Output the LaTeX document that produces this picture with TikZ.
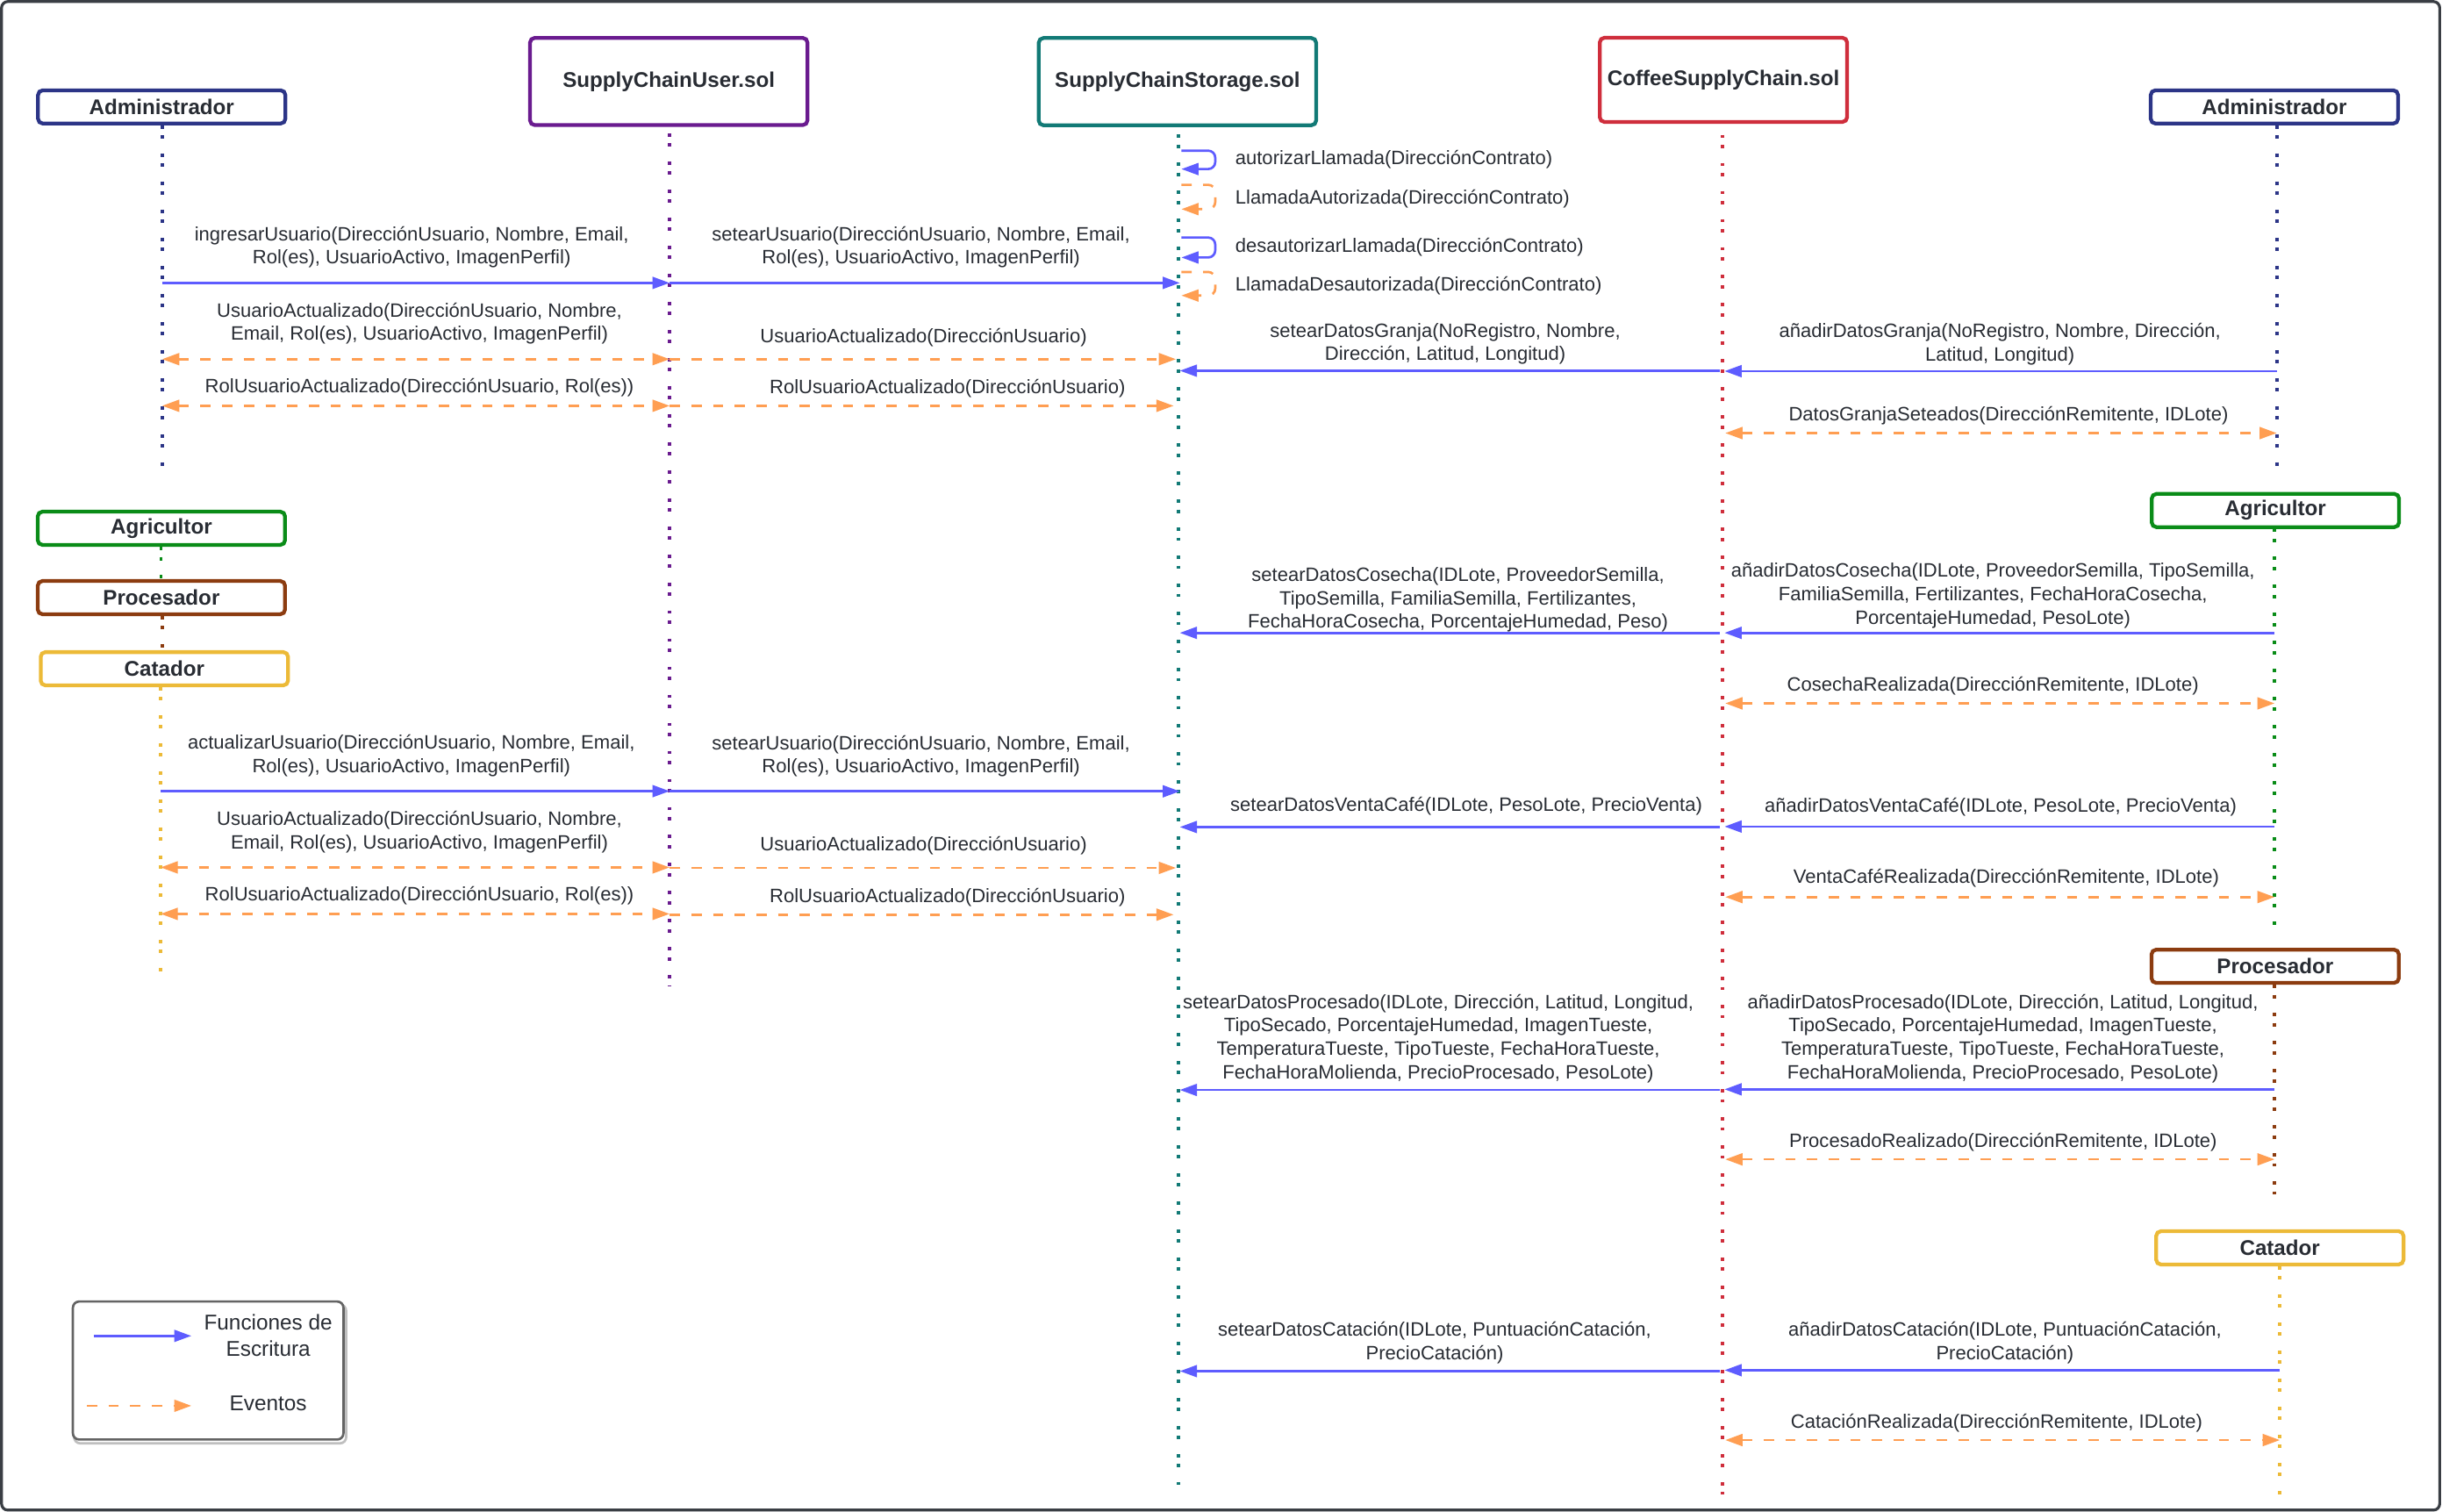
\documentclass[tikz,border=0pt]{standalone}
\usepackage{fontspec}
\setmainfont{Liberation Sans}
\usetikzlibrary{arrows.meta}
\definecolor{txt}{HTML}{282C33}
\definecolor{admc}{HTML}{2C3587}
\definecolor{userc}{HTML}{6A1B8F}
\definecolor{stoc}{HTML}{127A76}
\definecolor{cofc}{HTML}{CF2E3C}
\definecolor{agrc}{HTML}{0A8C18}
\definecolor{proc}{HTML}{8C3C10}
\definecolor{catc}{HTML}{ECBA38}
\definecolor{callc}{HTML}{5E5CFF}
\definecolor{evtc}{HTML}{FF9E52}
\definecolor{legc}{HTML}{646464}
\definecolor{framec}{HTML}{3A3E44}
\begin{document}
\begin{tikzpicture}[x=1pt,y=-1pt,
  actor/.style={draw, fill=white, rounded corners=3pt, line width=2.4pt, text=txt,
    font=\bfseries\fontsize{13.6}{16}\selectfont, inner sep=0pt,
    minimum width=158.6pt, minimum height=21.3pt},
  contract/.style={actor, minimum width=177.9pt, minimum height=55.9pt},
  life/.style={line width=2.1pt, dash pattern=on 2.2pt off 4.2pt on 2.2pt off 9.4pt},
  tip/.tip={Triangle[length=11pt,width=7.6pt]},
  call/.style={draw=callc, line width=1.5pt, -tip},
  evt/.style={draw=evtc, line width=1.5pt, dash pattern=on 6.6pt off 7.3pt, -tip},
  evtb/.style={evt, tip-tip},
  lbl/.style={text=txt, font=\fontsize{12.4}{15}\selectfont, align=center, inner sep=0pt},
  lbll/.style={lbl, anchor=west},
  leglbl/.style={text=txt, font=\fontsize{13.7}{17}\selectfont, align=center, inner sep=0pt}
]
\useasboundingbox (0,0) rectangle (1566,969.5);
\fill[white] (0,0) rectangle (1566,969.5);
\draw[framec, line width=1.8pt, rounded corners=4pt] (1,1) rectangle (1564.5,968.3);

% lifeline coordinates
\coordinate (admLt) at (104,80.4);   \coordinate (admLb) at (104,299.5);
\coordinate (userT) at (429.4,85.4); \coordinate (userB) at (429.4,632);
\coordinate (stoT) at (755.6,86.3);  \coordinate (stoB) at (755.6,952);
\coordinate (cofT) at (1104.4,86.4); \coordinate (cofB) at (1104.4,958);
\coordinate (admRt) at (1460,80.4);  \coordinate (admRb) at (1460,299.5);
\coordinate (agrLt) at (103.3,350.7); \coordinate (agrLb) at (103.3,371.4);
\coordinate (proLt) at (104,395);    \coordinate (proLb) at (104,417);
\coordinate (catLt) at (103,440.6);  \coordinate (catLb) at (103,625.5);
\coordinate (agrRt) at (1458.6,339); \coordinate (agrRb) at (1458.6,592.8);
\coordinate (proRt) at (1458.6,631.5); \coordinate (proRb) at (1458.6,771.5);
\coordinate (catRt) at (1462,812);   \coordinate (catRb) at (1462,958);

% lifelines
\draw[life, admc] (admLt) -- (admLb);
\draw[life, userc] (userT) -- (userB);
\draw[life, stoc] (stoT) -- (stoB);
\draw[life, cofc] (cofT) -- (cofB);
\draw[life, admc] (admRt) -- (admRb);
\draw[life, agrc] (agrLt) -- (agrLb);
\draw[life, proc] (proLt) -- (proLb);
\draw[life, catc] (catLt) -- (catLb);
\draw[life, agrc] (agrRt) -- (agrRb);
\draw[life, proc] (proRt) -- (proRb);
\draw[life, catc] (catRt) -- (catRb);

% actor boxes
\node[actor, draw=admc] (admL) at (103.7,68.55) {Administrador};
\node[contract, draw=userc] (user) at (428.85,52.25) {SupplyChainUser.sol};
\node[contract, draw=stoc] (sto) at (755.05,52.35) {SupplyChainStorage.sol};
\node[contract, draw=cofc, minimum width=158.6pt, minimum height=54pt] (cof) at (1105.2,51.2) {CoffeeSupplyChain.sol};
\node[actor, draw=admc] (admR) at (1458.5,68.55) {Administrador};
\node[actor, draw=agrc] (agrL) at (103.5,338.75) {Agricultor};
\node[actor, draw=proc] (proL) at (103.5,383.2) {Procesador};
\node[actor, draw=catc] (catL) at (105.4,428.8) {Catador};
\node[actor, draw=agrc] (agrR) at (1459.15,327.35) {Agricultor};
\node[actor, draw=proc] (proR) at (1459,619.6) {Procesador};
\node[actor, draw=catc] (catR) at (1462,800.15) {Catador};

% self loops on storage
\draw[call, rounded corners=4.5pt] ([xshift=2pt]stoT |- 0,96.6) -- ++(21.7,0) -- ++(0,11.8) -- ([xshift=2pt]stoT |- 0,108.4);
\node[lbll] (s1) at (792,102) {autorizarLlamada(DirecciónContrato)};
\draw[evt, rounded corners=4.5pt] ([xshift=2pt]stoT |- 0,118.5) -- ++(21.7,0) -- ++(0,15.6) -- ([xshift=2pt]stoT |- 0,134.1);
\node[lbll] (s2) at (792,127.6) {LlamadaAutorizada(DirecciónContrato)};
\draw[call, rounded corners=4.5pt] ([xshift=2pt]stoT |- 0,152.3) -- ++(21.7,0) -- ++(0,12.8) -- ([xshift=2pt]stoT |- 0,165.1);
\node[lbll] (s3) at (792,158.6) {desautorizarLlamada(DirecciónContrato)};
\draw[evt, rounded corners=4.5pt] ([xshift=2pt]stoT |- 0,174.4) -- ++(21.7,0) -- ++(0,15.1) -- ([xshift=2pt]stoT |- 0,189.5);
\node[lbll] (s4) at (792,183) {LlamadaDesautorizada(DirecciónContrato)};

% top-left messages
\draw[call] (admLt |- 0,181.4) -- (userT |- 0,181.4);
\node[lbl] (m1) at (264,158.5) {ingresarUsuario(DirecciónUsuario, Nombre, Email,\\Rol(es), UsuarioActivo, ImagenPerfil)};
\draw[call] (userT |- 0,181.4) -- ([xshift=1pt]stoT |- 0,181.4);
\node[lbl] (m2) at (590.6,158.5) {setearUsuario(DirecciónUsuario, Nombre, Email,\\Rol(es), UsuarioActivo, ImagenPerfil)};
\draw[evtb] (admLt |- 0,230.3) -- (userT |- 0,230.3);
\node[lbl] (m3) at (269,207.5) {UsuarioActualizado(DirecciónUsuario, Nombre,\\Email, Rol(es), UsuarioActivo, ImagenPerfil)};
\draw[evt] (userT |- 0,230.3) -- ([xshift=-1.5pt]stoT |- 0,230.3);
\node[lbl] (m4) at (592.3,216.3) {UsuarioActualizado(DirecciónUsuario)};
\draw[evtb] (admLt |- 0,260.2) -- (userT |- 0,260.2);
\node[lbl] (m5) at (269,248.6) {RolUsuarioActualizado(DirecciónUsuario, Rol(es))};
\draw[evt] (userT |- 0,260.2) -- ([xshift=-3pt]stoT |- 0,260.2);
\node[lbl] (m6) at (607.6,249) {RolUsuarioActualizado(DirecciónUsuario)};

% top-right messages
\draw[call] ([xshift=-1.5pt]cofT |- 0,237.7) -- ([xshift=1pt]stoT |- 0,237.7);
\node[lbl] (m7) at (926.8,220.5) {setearDatosGranja(NoRegistro, Nombre,\\Dirección, Latitud, Longitud)};
\draw[call] (admRt |- 0,238) -- ([xshift=1.5pt]cofT |- 0,238);
\node[lbl] (m8) at (1282.5,220.5) {añadirDatosGranja(NoRegistro, Nombre, Dirección,\\Latitud, Longitud)};
\draw[evtb] ([xshift=2pt]cofT |- 0,277.7) -- (admRt |- 0,277.7);
\node[lbl] (m9) at (1288,266.3) {DatosGranjaSeteados(DirecciónRemitente, IDLote)};

% Agricultor messages
\draw[call] ([xshift=-1.5pt]cofT |- 0,405.8) -- ([xshift=1pt]stoT |- 0,405.8);
\node[lbl] (m10) at (935,384.5) {setearDatosCosecha(IDLote, ProveedorSemilla,\\TipoSemilla, FamiliaSemilla, Fertilizantes,\\FechaHoraCosecha, PorcentajeHumedad, Peso)};
\draw[call] (agrRt |- 0,405.8) -- ([xshift=1.5pt]cofT |- 0,405.8);
\node[lbl] (m11) at (1278,381.9) {añadirDatosCosecha(IDLote, ProveedorSemilla, TipoSemilla,\\FamiliaSemilla, Fertilizantes, FechaHoraCosecha,\\PorcentajeHumedad, PesoLote)};
\draw[evtb] ([xshift=2pt]cofT |- 0,451) -- (agrRt |- 0,451);
\node[lbl] (m12) at (1278,440) {CosechaRealizada(DirecciónRemitente, IDLote)};

% Catador (left) user update
\draw[call] (catLt |- 0,507.3) -- (userT |- 0,507.3);
\node[lbl] (m13) at (263.8,484.7) {actualizarUsuario(DirecciónUsuario, Nombre, Email,\\Rol(es), UsuarioActivo, ImagenPerfil)};
\draw[call] (userT |- 0,507.4) -- ([xshift=1pt]stoT |- 0,507.4);
\node[lbl] (m14) at (590.6,484.9) {setearUsuario(DirecciónUsuario, Nombre, Email,\\Rol(es), UsuarioActivo, ImagenPerfil)};
\draw[evtb] (catLt |- 0,556.2) -- (userT |- 0,556.2);
\node[lbl] (m15) at (269,533.5) {UsuarioActualizado(DirecciónUsuario, Nombre,\\Email, Rol(es), UsuarioActivo, ImagenPerfil)};
\draw[evt] (userT |- 0,556.5) -- ([xshift=-1.5pt]stoT |- 0,556.5);
\node[lbl] (m16) at (592.3,542.5) {UsuarioActualizado(DirecciónUsuario)};
\draw[evtb] (catLt |- 0,586) -- (userT |- 0,586);
\node[lbl] (m17) at (269,574.4) {RolUsuarioActualizado(DirecciónUsuario, Rol(es))};
\draw[evt] (userT |- 0,586.5) -- ([xshift=-3pt]stoT |- 0,586.5);
\node[lbl] (m18) at (607.6,575.4) {RolUsuarioActualizado(DirecciónUsuario)};

% venta cafe
\draw[call] ([xshift=-1.5pt]cofT |- 0,530.3) -- ([xshift=1pt]stoT |- 0,530.3);
\node[lbl] (m19) at (940.3,517.2) {setearDatosVentaCafé(IDLote, PesoLote, PrecioVenta)};
\draw[call] (agrRt |- 0,530) -- ([xshift=1.5pt]cofT |- 0,530);
\node[lbl] (m20) at (1283,517.4) {añadirDatosVentaCafé(IDLote, PesoLote, PrecioVenta)};
\draw[evtb] ([xshift=2pt]cofT |- 0,575.2) -- (agrRt |- 0,575.2);
\node[lbl] (m21) at (1286.6,563.3) {VentaCaféRealizada(DirecciónRemitente, IDLote)};

% procesado
\draw[call] ([xshift=-1.5pt]cofT |- 0,698.9) -- ([xshift=1pt]stoT |- 0,698.9);
\node[lbl] (m22) at (922.3,665.8) {setearDatosProcesado(IDLote, Dirección, Latitud, Longitud,\\TipoSecado, PorcentajeHumedad, ImagenTueste,\\TemperaturaTueste, TipoTueste, FechaHoraTueste,\\FechaHoraMolienda, PrecioProcesado, PesoLote)};
\draw[call] (proRt |- 0,698.5) -- ([xshift=1.5pt]cofT |- 0,698.5);
\node[lbl] (m23) at (1284.4,665.8) {añadirDatosProcesado(IDLote, Dirección, Latitud, Longitud,\\TipoSecado, PorcentajeHumedad, ImagenTueste,\\TemperaturaTueste, TipoTueste, FechaHoraTueste,\\FechaHoraMolienda, PrecioProcesado, PesoLote)};
\draw[evtb] ([xshift=2pt]cofT |- 0,743.4) -- (proRt |- 0,743.4);
\node[lbl] (m24) at (1284.6,732.6) {ProcesadoRealizado(DirecciónRemitente, IDLote)};

% catacion
\draw[call] ([xshift=-1.5pt]cofT |- 0,879.2) -- ([xshift=1pt]stoT |- 0,879.2);
\node[lbl] (m25) at (920,861.2) {setearDatosCatación(IDLote, PuntuaciónCatación,\\PrecioCatación)};
\draw[call] (catRt |- 0,878.6) -- ([xshift=1.5pt]cofT |- 0,878.6);
\node[lbl] (m26) at (1285.7,861.2) {añadirDatosCatación(IDLote, PuntuaciónCatación,\\PrecioCatación)};
\draw[evtb] ([xshift=2pt]cofT |- 0,923.4) -- (catRt |- 0,923.4);
\node[lbl] (m27) at (1280.4,912.6) {CataciónRealizada(DirecciónRemitente, IDLote)};

% legend
\draw[black!25, line width=1.5pt, rounded corners=4pt] (47.5,836.5) rectangle (222,925.5);
\node[draw=legc, fill=white, line width=1.5pt, rounded corners=4pt, minimum width=173.5pt, minimum height=88.5pt, inner sep=0pt] (legend) at (133.5,878.8) {};
\coordinate (lc1) at (60,856.6); \coordinate (lc2) at (122.7,856.6);
\draw[call] (lc1) -- (lc2);
\coordinate (le1) at (55.7,901.4); \coordinate (le2) at (122.7,901.4);
\draw[evt] (le1) -- (le2);
\node[leglbl] (legcall) at (172,856.5) {Funciones de\\Escritura};
\node[leglbl] (legevt) at (172,900) {Eventos};
\end{tikzpicture}
\end{document}
